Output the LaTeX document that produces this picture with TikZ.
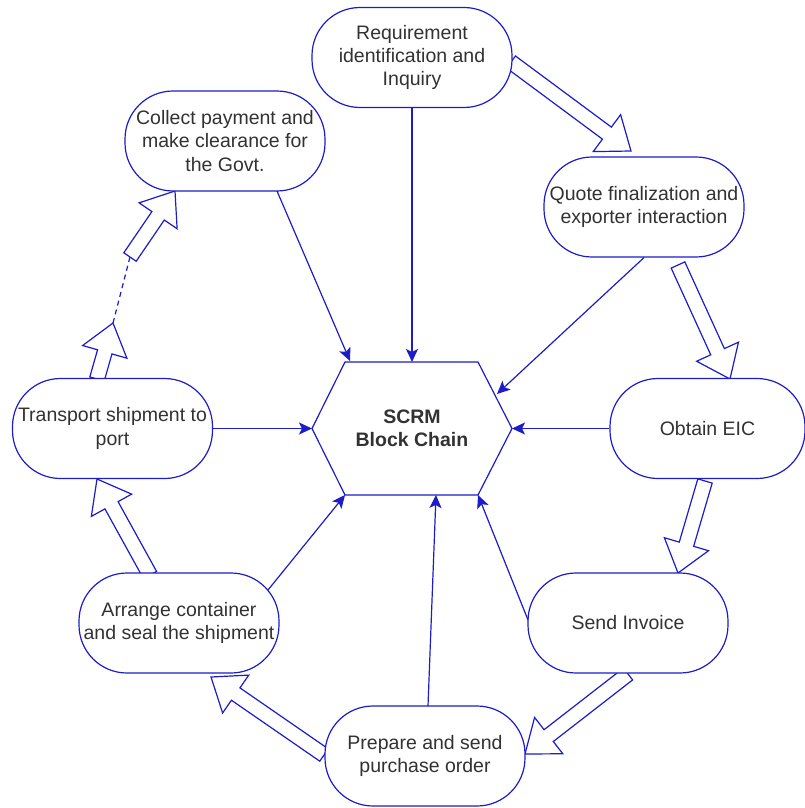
\documentclass[tikz,border=0pt]{standalone}
\usepackage{fontspec}
\setmainfont{Liberation Sans}
\usetikzlibrary{calc,arrows.meta,backgrounds}
\definecolor{lineblue}{RGB}{28,28,200}
\definecolor{textgray}{RGB}{50,50,50}
\tikzset{
  proc/.style={draw=lineblue, line width=1.2pt, fill=white, rounded corners=48pt,
    minimum width=200pt, minimum height=100pt, align=center, inner sep=0pt,
    font=\fontsize{19.5}{23.4}\selectfont, text=textgray},
  conn/.style={draw=lineblue, line width=1.2pt, -{Stealth[length=13pt,width=12pt,inset=3pt]}},
  bigarrow/.style={draw=lineblue, line width=1.2pt, fill=white, line join=miter},
  hexshape/.style={draw=lineblue, line width=1.2pt, fill=white, line join=miter}
}
\newcommand{\blockarrow}[2]{%
  \coordinate (tmpC) at ($(#2)!30pt!(#1)$);
  \draw[bigarrow] ($(#1)!7.5pt!90:(#2)$) -- ($(tmpC)!7.5pt!90:(#2)$) -- ($(tmpC)!23pt!90:(#2)$) -- (#2)
    -- ($(tmpC)!23pt!-90:(#2)$) -- ($(tmpC)!7.5pt!-90:(#2)$) -- ($(#1)!7.5pt!-90:(#2)$) -- cycle;}
\begin{document}
\begin{tikzpicture}[x=1pt,y=-1pt]
\useasboundingbox (0,0) rectangle (805,808);

% hexagon
\coordinate (hL) at (312,428.5);
\coordinate (hTL) at (345,362);
\coordinate (hTR) at (478,362);
\coordinate (hR) at (512,428.5);
\coordinate (hBR) at (478,495);
\coordinate (hBL) at (345,495);
\draw[hexshape] (hL) -- (hTL) -- (hTR) -- (hR) -- (hBR) -- (hBL) -- cycle;
\node[font=\fontsize{19.5}{23.4}\selectfont\bfseries, text=textgray, align=center] (hex) at (412,428.5) {SCRM\\Block Chain};

% process nodes
\node[proc] (req) at (412,57.5) {Requirement\\identification and\\Inquiry};
\node[proc] (collect) at (225,141) {Collect payment and\\make clearance for\\the Govt.};
\node[proc] (quote) at (644,207) {Quote finalization and\\exporter interaction};
\node[proc, minimum width=195pt] (eic) at (707.5,428.5) {Obtain EIC};
\node[proc] (invoice) at (628,623) {Send Invoice};
\node[proc] (prepare) at (425,756) {Prepare and send\\purchase order};
\node[proc] (arrange) at (179,623) {Arrange container\\and seal the shipment};
\node[proc] (transport) at (112.5,428.5) {Transport shipment to\\port};

% thin connectors into the hexagon
\coordinate (hTop) at (412,362);
\coordinate (hC1) at (350,361);
\coordinate (hQ) at (497,394);
\coordinate (hBot) at (436,495);
\coordinate (cS) at (277,191);
\coordinate (aS) at (268,590);
\coordinate (pS) at (428,706);
\coordinate (iS) at (528,620);
\draw[conn] (req.south) -- (hTop);
\draw[conn] (cS) -- (hC1);
\draw[conn] (quote.south) -- (hQ);
\draw[conn] (eic.west) -- (hR);
\draw[conn] (transport.east) -- (hL);
\draw[conn] (aS) -- (hBL);
\draw[conn] (pS) -- (hBot);
\draw[conn] (iS) -- (hBR);

% block arrows
\begin{pgfonlayer}{background}
\coordinate (b1s) at (511,62);   \coordinate (b1e) at (631,151);
\coordinate (b2s) at (678,265);  \coordinate (b2e) at (730,379);
\coordinate (b3s) at (705,481);  \coordinate (b3e) at (678,573);
\coordinate (b4s) at (628,674);  \coordinate (b4e) at (525,754);
\coordinate (b5s) at (324,755);  \coordinate (b5e) at (211,677);
\coordinate (b6s) at (150,575);  \coordinate (b6e) at (97,479);
\coordinate (b7s) at (97,379);   \coordinate (b7e) at (113,323);
\coordinate (b8s) at (130,257);  \coordinate (b8e) at (175,191);
\blockarrow{b1s}{b1e}
\blockarrow{b2s}{b2e}
\blockarrow{b3s}{b3e}
\blockarrow{b4s}{b4e}
\blockarrow{b5s}{b5e}
\blockarrow{b6s}{b6e}
\blockarrow{b7s}{b7e}
\blockarrow{b8s}{b8e}
\draw[draw=lineblue, line width=1.2pt, dash pattern=on 5pt off 4pt] (b7e) -- (b8s);
\end{pgfonlayer}
\end{tikzpicture}
\end{document}
